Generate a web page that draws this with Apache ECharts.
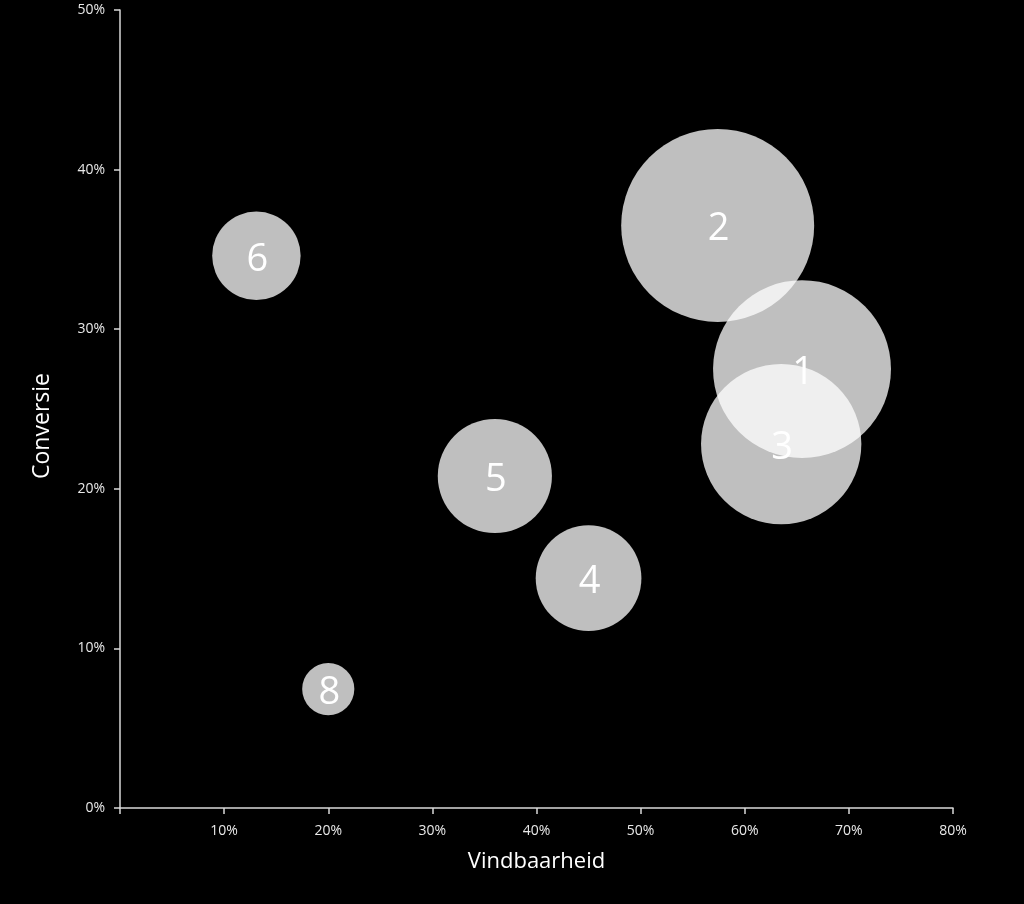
<!DOCTYPE html>
<html>
<head>
<meta charset="utf-8">
<script src="https://cdn.jsdelivr.net/npm/echarts@6/dist/echarts.min.js"></script>
<style>
html,body{margin:0;padding:0;background:#000;}
#chart{width:1024px;height:904px;}
</style>
</head>
<body>
<div id="chart"></div>
<script>
const labels = ['2', '1', '3', '5', '4', '6', '8'];
const vindbaarheid = [0.574, 0.655, 0.635, 0.360, 0.450, 0.131, 0.200];
const conversie = [0.365, 0.275, 0.228, 0.208, 0.144, 0.346, 0.0745];
const bubbleSize = [100, 85, 69, 35, 30, 21, 7.3];
const xTicks = [0, 0.1, 0.2, 0.3, 0.4, 0.5, 0.6, 0.7, 0.8];
const yTicks = [0, 0.1, 0.2, 0.3, 0.4, 0.5];

const data = labels.map((l, i) => ({
  name: l,
  value: [vindbaarheid[i], conversie[i], bubbleSize[i]]
}));

const font = "'Open Sans', 'Noto Sans', sans-serif";
const pct = v => Math.round(v * 100) + '%';

const chart = echarts.init(document.getElementById('chart'));
chart.setOption({
  backgroundColor: '#000',
  animation: false,
  grid: { left: 120, right: 71, top: 10, bottom: 96, containLabel: false },
  xAxis: {
    type: 'value',
    min: xTicks[0], max: xTicks[xTicks.length - 1], interval: 0.1,
    name: 'Vindbaarheid',
    nameLocation: 'middle',
    nameGap: 43,
    nameTextStyle: { color: '#fff', fontSize: 22, fontFamily: font },
    axisLine: { show: true, lineStyle: { color: '#d9d9d9', width: 1.5 } },
    axisTick: { show: true, length: 6, lineStyle: { color: '#d9d9d9', width: 1.5 } },
    axisLabel: { color: '#e8e8e8', fontSize: 14, fontFamily: font, margin: 16,
      formatter: v => v === 0 ? '' : pct(v) },
    splitLine: { show: false }
  },
  yAxis: {
    type: 'value',
    min: yTicks[0], max: yTicks[yTicks.length - 1], interval: 0.1,
    name: 'Conversie',
    nameLocation: 'middle',
    nameGap: 66,
    nameRotate: 90,
    nameTextStyle: { color: '#fff', fontSize: 23, fontFamily: font, padding: [0, 34, 0, 0] },
    axisLine: { show: true, lineStyle: { color: '#d9d9d9', width: 1.5 } },
    axisTick: { show: true, length: 6, lineStyle: { color: '#d9d9d9', width: 1.5 } },
    axisLabel: { color: '#e8e8e8', fontSize: 14, fontFamily: font, margin: 15,
      formatter: v => pct(v) },
    splitLine: { show: false }
  },
  series: [{
    type: 'scatter',
    data: data,
    symbol: 'circle',
    symbolSize: v => Math.sqrt(v[2]) * 19.3,
    itemStyle: { color: '#ffffff', opacity: 0.75 },
    label: {
      show: true,
      position: 'inside',
      offset: [1, 4],
      formatter: p => p.name,
      color: '#fff',
      opacity: 1,
      fontSize: 38,
      fontFamily: font
    },
    emphasis: { disabled: true }
  }]
});
</script>
</body>
</html>
